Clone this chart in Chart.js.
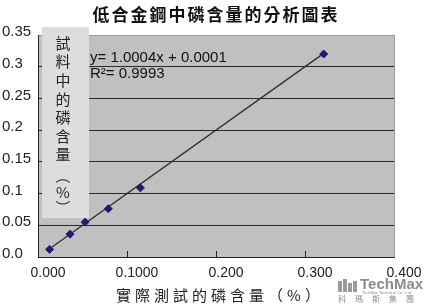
<!DOCTYPE html>
<html>
<head>
<meta charset="utf-8">
<script src="https://cdn.jsdelivr.net/npm/chart.js@4.4.1/dist/chart.umd.min.js"></script>
<style>
  html, body { margin: 0; padding: 0; background: #fff; }
  #wrap { width: 425px; height: 305px; }
</style>
</head>
<body>
<div id="wrap"><canvas id="phChart" width="425" height="305"></canvas></div>
<script>
// 數據
const measured = [0.013, 0.036, 0.053, 0.079, 0.115, 0.321];
const sample = [0.012, 0.036, 0.055, 0.076, 0.109, 0.320];
const trendX = [0.013, 0.321];
const trendY = [0.013, 0.321];
const xTickLabels = ["0.000", "0.1000", "0.200", "0.300", "0.400"];
const yTickLabels = ["0.0", "0.05", "0.1", "0.15", "0.2", "0.25", "0.3", "0.35"];

const chartTitle = "低合金鋼中磷含量的分析圖表";
const xTitle = "實際測試的磷含量（%）";
const yTitle = "試料中的磷含量（%）";
const eqLines = ["y= 1.0004x + 0.0001", "R²= 0.9993"];

const decor = {
  id: "decor",
  beforeDraw(chart) {
    const { ctx, chartArea: a } = chart;
    ctx.save();
    ctx.fillStyle = "#ffffff";
    ctx.fillRect(0, 0, chart.width, chart.height);
    ctx.fillStyle = "#c0c0c0";
    ctx.fillRect(a.left, a.top, a.right - a.left, a.bottom - a.top);
    ctx.restore();
  },
  beforeDatasetsDraw(chart) {
    const { ctx, chartArea: a, scales } = chart;
    ctx.save();
    // inward tick marks on x axis
    ctx.strokeStyle = "#222";
    ctx.lineWidth = 1;
    [0.1, 0.2, 0.3].forEach((v) => {
      const x = Math.round(scales.x.getPixelForValue(v)) + 0.5;
      ctx.beginPath();
      ctx.moveTo(x, a.bottom);
      ctx.lineTo(x, a.bottom - 6);
      ctx.stroke();
    });
    // box behind the vertical axis title
    const boxBottom = scales.y.getPixelForValue(0.0615);
    ctx.fillStyle = "#dddddd";
    ctx.fillRect(a.left + 4, a.top - 8, 47, boxBottom - (a.top - 8));
    // vertical title, brackets turned for vertical writing
    ctx.fillStyle = "#222";
    ctx.font = '15px "Noto Sans CJK TC"';
    ctx.textAlign = "center";
    ctx.textBaseline = "middle";
    const cx = a.left + 25;
    [...yTitle].forEach((ch, i) => {
      const cy = a.top + 8 + i * 18.6;
      if (ch === "（" || ch === "）") {
        ctx.save();
        ctx.translate(cx, cy + (ch === "（" ? 3 : -3));
        ctx.rotate(Math.PI / 2);
        ctx.fillText(ch, 0, 0);
        ctx.restore();
      } else {
        ctx.fillText(ch, cx, cy);
      }
    });
    ctx.restore();
  },
  afterDraw(chart) {
    const { ctx } = chart;
    ctx.save();
    ctx.textBaseline = "middle";
    // title
    ctx.fillStyle = "#111";
    ctx.font = 'bold 17px "Noto Sans CJK TC"';
    ctx.textAlign = "center";
    ctx.letterSpacing = "2px";
    ctx.fillText(chartTitle, 216, 15);
    // x axis title
    ctx.font = '15px "Noto Sans CJK TC"';
    ctx.fillStyle = "#222";
    ctx.letterSpacing = "4px";
    ctx.fillText(xTitle, 220, 295);
    ctx.letterSpacing = "0px";
    // trend equation
    ctx.textAlign = "left";
    ctx.font = '15px "Liberation Sans"';
    ctx.fillStyle = "#111";
    ctx.fillText(eqLines[0], 90, 58);
    ctx.fillText(eqLines[1], 90, 74);
    // logo
    ctx.fillStyle = "#9a9a9a";
    [[338, 281, 4, 11], [343, 279, 4, 13], [348, 283, 4, 9], [353, 281, 4, 11]].forEach((r) =>
      ctx.fillRect(r[0], r[1], r[2], r[3])
    );
    ctx.fillStyle = "#8c8c8c";
    ctx.font = 'bold 15px "Liberation Sans"';
    ctx.fillText("TechMax", 360, 285);
    ctx.font = '4px "Liberation Sans"';
    ctx.fillText("TechMax Technical Co., Ltd", 362, 293);
    ctx.font = '8px "Noto Sans CJK TC"';
    ctx.letterSpacing = "9px";
    ctx.fillText("科瑪斯集團", 338, 299);
    ctx.restore();
  },
};

const ctx = document.getElementById("phChart").getContext("2d");

new Chart(ctx, {
  data: {
    datasets: [
      {
        type: "scatter",
        label: "試料",
        data: measured.map((x, i) => ({ x: x, y: sample[i] })),
        pointStyle: "rectRot",
        radius: 4,
        backgroundColor: "#1c1c70",
        borderColor: "#1c1c70",
        order: 1,
      },
      {
        type: "line",
        label: "趨勢線",
        data: trendX.map((x, i) => ({ x: x, y: trendY[i] })),
        borderColor: "#2e2e2e",
        borderWidth: 1.3,
        pointRadius: 0,
        fill: false,
        order: 2,
      },
    ],
  },
  options: {
    responsive: false,
    animation: false,
    layout: {
      padding: { top: 35, left: 2, right: 31, bottom: 0 },
    },
    scales: {
      x: {
        type: "linear",
        min: 0,
        max: 0.4,
        afterFit: (s) => { s.height = 48; },
        ticks: {
          stepSize: 0.1,
          color: "#222",
          font: { family: "Liberation Sans", size: 14 },
          labelOffset: 10,
          padding: 8,
          maxRotation: 0,
          callback: (v, i) => xTickLabels[i],
        },
        grid: {
          drawTicks: false,
          color: (c) => (c.index === xTickLabels.length - 1 ? "#9a9a9a" : "rgba(0,0,0,0)"),
        },
        border: { color: "#222", width: 1 },
      },
      y: {
        min: 0,
        max: 0.35,
        afterFit: (s) => { s.width = 36; },
        ticks: {
          stepSize: 0.05,
          color: "#222",
          font: { family: "Liberation Sans", size: 15 },
          crossAlign: "far",
          labelOffset: -3,
          callback: (v, i) => yTickLabels[i],
        },
        grid: {
          drawTicks: false,
          color: (c) => (c.index === yTickLabels.length - 1 ? "#9a9a9a" : "#2a2a2a"),
        },
        border: { color: "#222", width: 1 },
      },
    },
    plugins: {
      legend: { display: false },
      tooltip: { enabled: false },
    },
  },
  plugins: [decor],
});
</script>
</body>
</html>
